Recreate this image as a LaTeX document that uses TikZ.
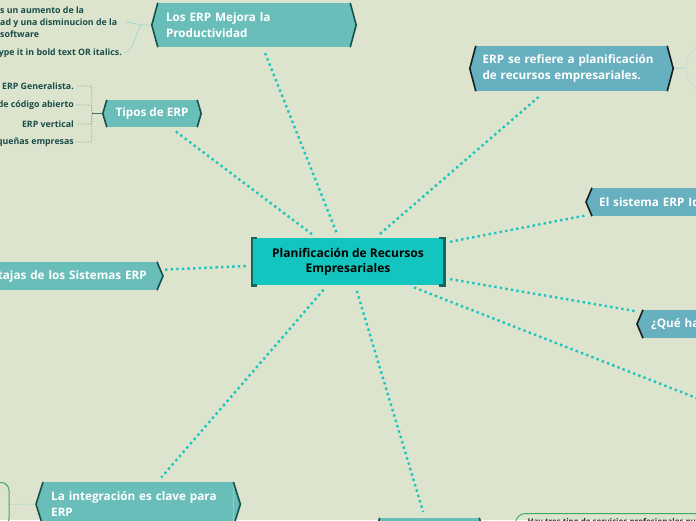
\documentclass[tikz,border=0pt]{standalone}
\usepackage{fontspec}
\setmainfont{Open Sans}
\usetikzlibrary{positioning,calc,backgrounds}
\definecolor{PaperGreen}{RGB}{220,228,206}
\definecolor{CoreTeal}{RGB}{18,197,190}
\definecolor{CoreEdge}{RGB}{22,100,94}
\definecolor{TopicGreen}{RGB}{106,190,186}
\definecolor{TopicBlue}{RGB}{103,176,191}
\definecolor{EdgeGreen}{RGB}{22,82,77}
\definecolor{EdgeBlue}{RGB}{22,30,34}
\definecolor{BranchTeal}{RGB}{28,197,189}
\definecolor{LeafInk}{RGB}{26,76,72}
\definecolor{LeafGray}{RGB}{140,152,140}
\definecolor{LeafTeal}{RGB}{165,214,205}
\definecolor{BoxGreen}{RGB}{62,170,102}
\tikzset{
  core/.style={fill=CoreTeal,minimum width=192pt,minimum height=47pt,align=center,font=\bfseries\fontsize{12}{15}\selectfont,text=black},
  topic/.style={fill=#1,minimum height=28pt,inner xsep=8pt,inner ysep=0pt,align=left,font=\bfseries\fontsize{11.7}{15.5}\selectfont,text=white},
  leaf/.style={inner sep=2pt,font=\bfseries\fontsize{8.8}{11.7}\selectfont,text=LeafInk,align=left},
  branch/.style={draw=BranchTeal,line width=2.4pt,dash pattern=on 2.4pt off 3.2pt,shorten <=6pt,shorten >=6pt},
  leafline/.style={draw=LeafGray,line width=0.8pt,dash pattern=on 1pt off 1.5pt,rounded corners=2pt},
  leafcurve/.style={draw=LeafTeal,line width=0.8pt},
  sidepen/.style={draw=#1,line width=1.6pt,line join=miter}
}
\begin{document}
\begin{tikzpicture}[x=1pt,y=-1pt]
\useasboundingbox (0,0) rectangle (696,520);
\clip (0,0) rectangle (696,520);
% central topic
\node[core] (erp) at (348,261.5) {Planificación de Recursos\\Empresariales};
\draw[line width=2.6pt,draw=CoreEdge] ([xshift=5pt]erp.north west) -- (erp.north west) -- (erp.south west) -- ([xshift=5pt]erp.south west);
\draw[line width=2.6pt,draw=CoreEdge] ([xshift=-5pt]erp.north east) -- (erp.north east) -- (erp.south east) -- ([xshift=-5pt]erp.south east);
% main topics
\node[topic=TopicGreen,minimum height=44pt,text width=176pt] (prod) at (254,25) {Los ERP Mejora la\\Productividad};
\node[topic=TopicGreen,minimum width=90pt,minimum height=27pt,align=center] (tipos) at (152,113.5) {Tipos de ERP};
\node[topic=TopicBlue,minimum height=45pt,inner xsep=6.5pt,text width=178pt] (refiere) at (571.5,68.5) {ERP se refiere a planificación\\de recursos empresariales.};
\node[topic=TopicBlue,anchor=west,inner xsep=7pt,text width=112pt] (sistema) at (592,202) {El sistema ERP Id};
\node[topic=TopicBlue,anchor=west,text width=118pt] (quehay) at (643,324) {¿Qué ha};
\node[topic=TopicGreen,anchor=east,inner xsep=10pt,text width=254pt,align=right] (ventajas) at (157,276) {Ventajas de los Sistemas ERP};
\node[topic=TopicGreen,anchor=north west,minimum height=44pt,text width=174pt] (integra) at (43,482) {La integración es clave para\\ERP};
\node[topic=TopicGreen,minimum width=99pt,minimum height=30pt] (bottomtopic) at (429.5,533) {};
\foreach \n/\c/\e/\d in {prod/TopicGreen/EdgeGreen/6,tipos/TopicGreen/EdgeGreen/4,refiere/TopicBlue/EdgeBlue/6,sistema/TopicBlue/EdgeBlue/6,quehay/TopicBlue/EdgeBlue/6,ventajas/TopicGreen/EdgeGreen/6,integra/TopicGreen/EdgeGreen/7,bottomtopic/TopicGreen/EdgeGreen/5}{
  \fill[\c] (\n.north west) -- ([xshift=-\d pt]\n.west) -- (\n.south west) -- cycle
            (\n.north east) -- ([xshift=\d pt]\n.east) -- (\n.south east) -- cycle;
  \draw[sidepen=\e] (\n.north west) -- ([xshift=-\d pt]\n.west) -- (\n.south west)
                    (\n.north east) -- ([xshift=\d pt]\n.east) -- (\n.south east);
}
\coordinate (offright) at (740,415);
% subtopics
\node[leaf,anchor=north west,inner sep=0pt] (tl1) at (0,7) {s un aumento de la\\ad y una disminucion de la\\software};
\node[leaf,anchor=east] (tl2) at (124,53) {Type it in bold text OR italics.};
\node[leaf,anchor=east] (gen) at (76,86) {ERP Generalista.};
\node[leaf,anchor=east] (abierto) at (76,105) {de código abierto};
\node[leaf,anchor=east] (vertical) at (76,124) {ERP vertical};
\node[leaf,anchor=east] (pequenas) at (76,142) {pequeñas empresas};
\node[draw=LeafTeal,dash pattern=on 1pt off 1pt,rounded corners=22pt,minimum width=80pt,minimum height=48pt,anchor=west] (refsub) at (686,68) {};
\node[draw=BoxGreen,line width=1pt,rounded corners=8pt,minimum width=60pt,minimum height=44pt,anchor=north east] (intsub) at (9.5,482) {};
\node[leaf,draw=BoxGreen,line width=1pt,rounded corners=10pt,anchor=north west,inner xsep=12pt,inner ysep=5pt,text=black!80,font=\bfseries\fontsize{8}{10}\selectfont] (servicios) at (515,513) {Hay tres tipo de servicios profesionales pu};
\begin{scope}[on background layer]
\fill[PaperGreen] (0,0) rectangle (696,520);
\foreach \t in {prod,tipos,refiere,sistema,quehay,ventajas,integra,bottomtopic}
  \draw[branch] (erp) -- (\t);
\draw[branch] (erp) -- (offright);
\foreach \l in {gen,abierto,vertical,pequenas}
  \draw[leafline] ([xshift=-4pt]tipos.west) -- ++(-11,0) |- (\l.east);
\draw[line width=1pt,draw=LeafInk!80] ([xshift=-4pt]tipos.west) -- ++(-11,0);
\draw[leafcurve] ([xshift=-6pt]prod.west) -- ++(-9,0) coordinate (pbend) .. controls +(-6,0) and +(10,0) .. ([xshift=8pt]tl1.east);
\draw[leafcurve] (pbend) .. controls +(-6,0) and +(10,0) .. (tl2.east);
\draw[leafcurve] ([xshift=6pt]refiere.east) -- (refsub.west);
\draw[leafline,draw=LeafTeal] ([xshift=-7pt]integra.west) -- (intsub.east);
\end{scope}
\end{tikzpicture}
\end{document}
